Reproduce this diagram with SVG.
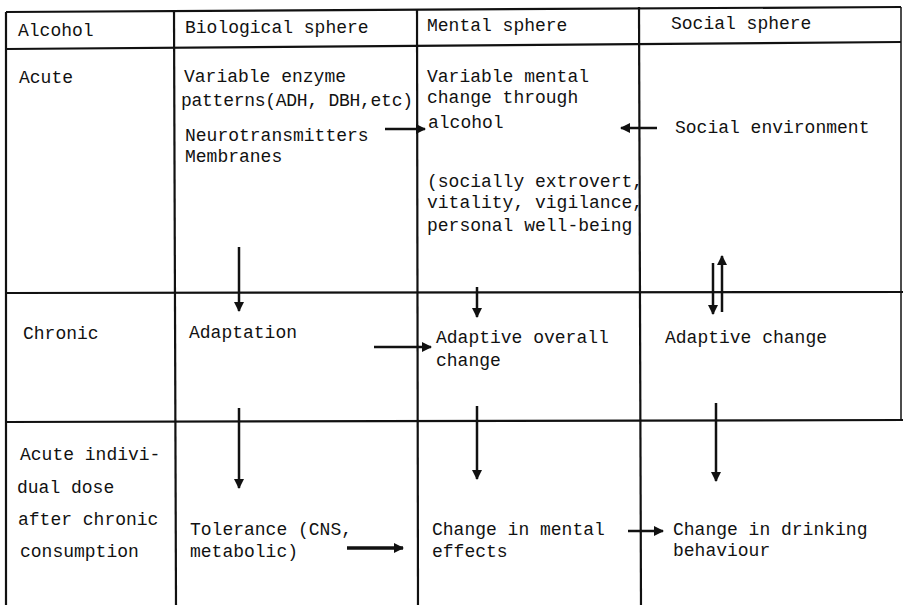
<svg xmlns="http://www.w3.org/2000/svg" width="903" height="605" viewBox="0 0 903 605">
<style>
  text { font-family: "Liberation Mono", "DejaVu Sans Mono", monospace; font-size: 18px; fill: #111; }
  .grid line { stroke: #111; stroke-width: 2.2; fill: none; }
  .conn line { stroke: #111; stroke-width: 2.5; fill: none; marker-end: url(#ah); }
</style>
<defs>
  <marker id="ah" viewBox="0 0 10 10" refX="9" refY="5" markerWidth="10" markerHeight="10" markerUnits="userSpaceOnUse" orient="auto">
    <path d="M0,0 L10,5 L0,10 z" fill="#111"/>
  </marker>
</defs>
<rect width="903" height="605" fill="#fff"/>
<g class="grid" id="grid">
  <line x1="6" y1="12" x2="901" y2="7"/>
  <line x1="6" y1="49" x2="901" y2="42"/>
  <line x1="6" y1="293" x2="903" y2="292"/>
  <line x1="6" y1="422" x2="903" y2="420"/>
  <line x1="6" y1="12" x2="6" y2="605"/>
  <line x1="174" y1="11" x2="176" y2="605"/>
  <line x1="417" y1="9" x2="418" y2="605"/>
  <line x1="639" y1="7" x2="641" y2="605"/>
  <line x1="901" y1="7" x2="901" y2="420" style="stroke-width:1.5"/>
</g>
<g id="h-alcohol"><text x="18" y="36">Alcohol</text></g>
<g id="h-bio"><text x="185" y="33">Biological sphere</text></g>
<g id="h-mental"><text x="427" y="31">Mental sphere</text></g>
<g id="h-social"><text x="671" y="29">Social sphere</text></g>
<g id="r-acute"><text x="19" y="83">Acute</text></g>
<g id="r-chronic"><text x="23" y="339">Chronic</text></g>
<g id="r-dose">
  <text x="20" y="460">Acute indivi-</text>
  <text x="17" y="493">dual dose</text>
  <text x="18" y="525">after chronic</text>
  <text x="20" y="557">consumption</text>
</g>
<g id="bio-acute">
  <text x="184" y="82">Variable enzyme</text>
  <text x="181" y="106" textLength="232">patterns(ADH, DBH,etc)</text>
  <text x="185" y="141">Neurotransmitters</text>
  <text x="185" y="162">Membranes</text>
</g>
<g id="mental-acute">
  <text x="427" y="82">Variable mental</text>
  <text x="427" y="103">change through</text>
  <text x="428" y="128">alcohol</text>
  <text x="427" y="187">(socially extrovert,</text>
  <text x="427" y="208">vitality, vigilance,</text>
  <text x="427" y="231">personal well-being</text>
</g>
<g id="social-acute"><text x="675" y="133">Social environment</text></g>
<g id="bio-chronic"><text x="189" y="338">Adaptation</text></g>
<g id="mental-chronic">
  <text x="436" y="343">Adaptive overall</text>
  <text x="436" y="366">change</text>
</g>
<g id="social-chronic"><text x="665" y="343">Adaptive change</text></g>
<g id="bio-dose">
  <text x="190" y="535">Tolerance (CNS,</text>
  <text x="190" y="557">metabolic)</text>
</g>
<g id="mental-dose">
  <text x="432" y="535">Change in mental</text>
  <text x="432" y="557">effects</text>
</g>
<g id="social-dose">
  <text x="673" y="535">Change in drinking</text>
  <text x="673" y="556">behaviour</text>
</g>
<g class="conn" id="connectors">
  <line x1="385" y1="129" x2="425" y2="129"/>
  <line x1="657" y1="128" x2="621" y2="128"/>
  <line x1="239" y1="247" x2="239" y2="311"/>
  <line x1="477" y1="287" x2="477" y2="317"/>
  <line x1="713" y1="263" x2="713" y2="314"/>
  <line x1="722" y1="312" x2="722" y2="256"/>
  <line x1="374" y1="347" x2="431" y2="347"/>
  <line x1="239" y1="408" x2="239" y2="488"/>
  <line x1="477" y1="406" x2="477" y2="479"/>
  <line x1="716" y1="403" x2="716" y2="481"/>
  <line x1="347" y1="548" x2="403" y2="548" style="stroke-width:3.5"/>
  <line x1="628" y1="531" x2="663" y2="531"/>
</g>
</svg>
